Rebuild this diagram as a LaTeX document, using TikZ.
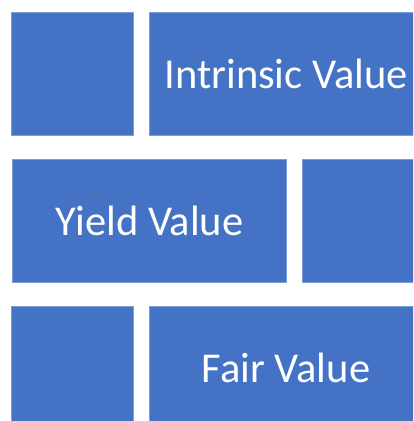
\documentclass[tikz,border=0pt]{standalone}
\usepackage{fontspec}
\setmainfont{Carlito}
\usetikzlibrary{positioning}

\definecolor{brickblue}{HTML}{4472C4}
\tikzset{
  brick/.style={fill=brickblue, draw=brickblue!70!white, line width=0.6pt,
    inner sep=0pt, minimum height=123pt, text=white,
    font=\fontsize{42.5}{50}\selectfont},
  smallbrick/.style={brick, minimum width=122pt},
  bigbrick/.style={brick, minimum width=274pt}
}

\begin{document}
\begin{tikzpicture}[x=1pt, y=-1pt]
    \useasboundingbox (0,0) rectangle (413,421);
    \clip (0,0) rectangle (413,421);

    % top row
    \node[smallbrick] (topleft) at (72.5,74) {};
    \node[bigbrick, right=15pt of topleft] (intrinsic) {Intrinsic Value};

    % middle row
    \node[bigbrick] (yield) at (149.5,221) {Yield Value};
    \node[smallbrick, right=15pt of yield] (midright) {};

    % bottom row
    \node[smallbrick] (botleft) at (72.5,367.5) {};
    \node[bigbrick, right=15pt of botleft] (fair) {Fair Value};
\end{tikzpicture}
\end{document}
